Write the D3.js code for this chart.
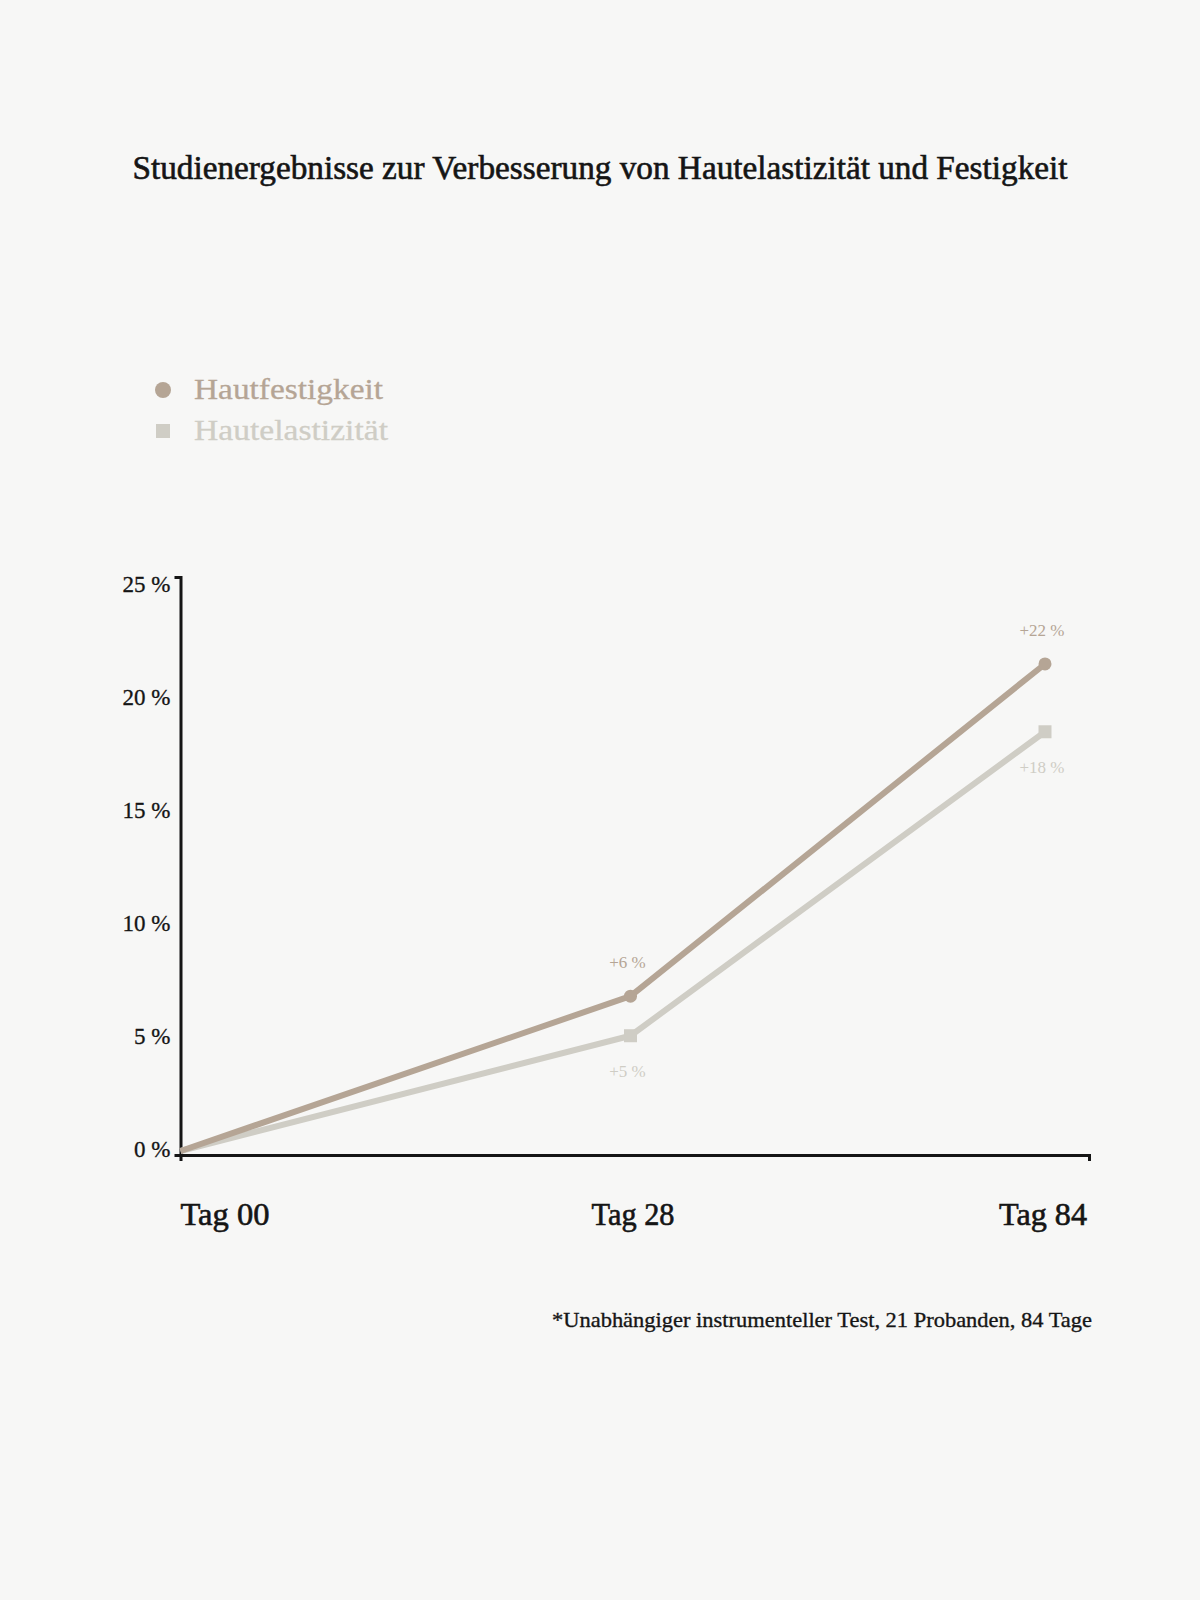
<!DOCTYPE html>
<html>
<head>
<meta charset="utf-8">
<script src="https://cdn.jsdelivr.net/npm/d3@7"></script>
<style>
  html, body { margin: 0; padding: 0; background: #f7f7f6; }
  svg { display: block; }
  text { font-family: "Liberation Serif", "DejaVu Serif", serif; }
</style>
</head>
<body>
<svg id="chart" width="1200" height="1600"></svg>
<script>
const title = "Studienergebnisse zur Verbesserung von Hautelastizität und Festigkeit";
const days = ["Tag 00", "Tag 28", "Tag 84"];
const seriesNames = ["Hautfestigkeit", "Hautelastizität"];
const festigkeit = [0, 6.85, 21.55];
const elastizitaet = [0, 5.1, 18.55];
const festigkeitLabels = [null, "+6 %", "+22 %"];
const elastizitaetLabels = [null, "+5 %", "+18 %"];
const yTicks = [0, 5, 10, 15, 20, 25];
const footnote = "*Unabhängiger instrumenteller Test, 21 Probanden, 84 Tage";

const colFest = "#b5a595";
const colElast = "#cfcdc5";
const ink = "#151515";

const svg = d3.select("#chart");
svg.append("rect").attr("width", 1200).attr("height", 1600).attr("fill", "#f7f7f6");

// Title
svg.append("text")
  .attr("x", 600).attr("y", 179)
  .attr("text-anchor", "middle")
  .attr("font-size", 33)
  .attr("fill", ink).attr("stroke", ink).attr("stroke-width", 0.6)
  .attr("textLength", 935).attr("lengthAdjust", "spacingAndGlyphs")
  .text(title);

// Legend
const legend = svg.append("g");
const legendY = [390, 431];
const legendCols = [colFest, colElast];
legend.append("circle").attr("cx", 163).attr("cy", legendY[0]).attr("r", 8).attr("fill", colFest);
legend.append("rect").attr("x", 156).attr("y", legendY[1] - 7).attr("width", 14).attr("height", 14).attr("fill", colElast);
const legendW = [189, 194];
seriesNames.forEach((n, i) => {
  legend.append("text")
    .attr("x", 194).attr("y", legendY[i] + 9)
    .attr("font-size", 30)
    .attr("fill", legendCols[i]).attr("stroke", legendCols[i]).attr("stroke-width", 0.3)
    .attr("textLength", legendW[i]).attr("lengthAdjust", "spacingAndGlyphs")
    .text(n);
});

// Scales
const dayX = [180.5, 630.5, 1045];
const y = d3.scaleLinear().domain([0, 25]).range([1151, 586]);
const yFrame = d3.scaleLinear().domain([0, 25]).range([1155, 577]);

// Y axis line (frame)
const gyLine = svg.append("g").attr("transform", "translate(180.5,0)")
  .call(d3.axisLeft(yFrame).tickValues([]).tickSizeOuter(6));
gyLine.select(".domain").attr("stroke", ink).attr("stroke-width", 3);

// Y tick labels
const gy = svg.append("g").attr("transform", "translate(180.5,0)")
  .call(d3.axisLeft(y).tickValues(yTicks).tickSize(0).tickPadding(10).tickFormat(d => d + " %"));
gy.select(".domain").remove();
gy.selectAll(".tick text")
  .attr("font-family", "Liberation Serif, serif")
  .attr("dy", "0.22em")
  .attr("font-size", 23).attr("fill", ink).attr("stroke", ink).attr("stroke-width", 0.3);

// X axis (line with outer tick at the end)
const xAxis = d3.axisBottom(d3.scaleLinear().domain([0, 1]).range([180.5, 1089]))
  .tickValues([]).tickSizeOuter(6);
const gx = svg.append("g").attr("transform", "translate(0,1155)").call(xAxis);
gx.select(".domain").attr("stroke", ink).attr("stroke-width", 3);

// X labels
const xLabelW = [89, 83, 88];
const anchors = ["start", "middle", "end"];
const xLabelPos = [180.5, 633, 1087];
svg.append("g").selectAll("text").data(days).join("text")
  .attr("x", (d, i) => xLabelPos[i])
  .attr("y", 1225)
  .attr("text-anchor", (d, i) => anchors[i])
  .attr("font-size", 31)
  .attr("fill", ink).attr("stroke", ink).attr("stroke-width", 0.6)
  .attr("textLength", (d, i) => xLabelW[i]).attr("lengthAdjust", "spacingAndGlyphs")
  .text(d => d);

// Lines
const line = d3.line().x((d, i) => dayX[i]).y(d => y(d));
svg.append("path").datum(elastizitaet).attr("d", line)
  .attr("fill", "none").attr("stroke", colElast).attr("stroke-width", 6).attr("stroke-linejoin", "round");
svg.append("path").datum(festigkeit).attr("d", line)
  .attr("fill", "none").attr("stroke", colFest).attr("stroke-width", 6).attr("stroke-linejoin", "round");

// Markers
svg.append("g").selectAll("rect").data(elastizitaet.slice(1)).join("rect")
  .attr("x", (d, i) => dayX[i + 1] - 6.5).attr("y", d => y(d) - 6.5)
  .attr("width", 13).attr("height", 13).attr("fill", colElast);
svg.append("g").selectAll("circle").data(festigkeit.slice(1)).join("circle")
  .attr("cx", (d, i) => dayX[i + 1]).attr("cy", d => y(d))
  .attr("r", 6.5).attr("fill", colFest);

// Value labels
const labG = svg.append("g").attr("font-size", 17);
festigkeit.forEach((v, i) => {
  if (!festigkeitLabels[i]) return;
  labG.append("text").attr("x", dayX[i] - 3).attr("y", y(v) - 28)
    .attr("text-anchor", "middle").attr("fill", colFest).text(festigkeitLabels[i]);
});
elastizitaet.forEach((v, i) => {
  if (!elastizitaetLabels[i]) return;
  labG.append("text").attr("x", dayX[i] - 3).attr("y", y(v) + 41)
    .attr("text-anchor", "middle").attr("fill", colElast).text(elastizitaetLabels[i]);
});

// Footnote
svg.append("text")
  .attr("x", 1092).attr("y", 1327)
  .attr("text-anchor", "end")
  .attr("font-size", 22)
  .attr("fill", ink).attr("stroke", ink).attr("stroke-width", 0.35)
  .attr("textLength", 540).attr("lengthAdjust", "spacingAndGlyphs")
  .text(footnote);
</script>
</body>
</html>
